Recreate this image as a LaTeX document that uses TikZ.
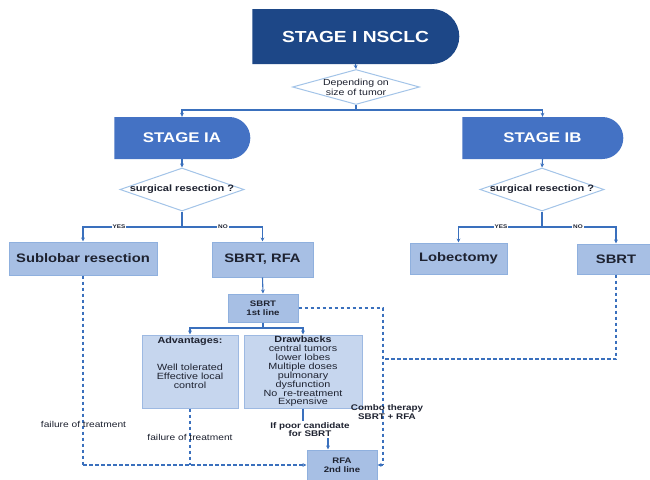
\documentclass[tikz,border=0pt]{standalone}
\usepackage{fontspec}
\setmainfont{Liberation Sans}[FakeStretch=1.2]
\usetikzlibrary{shapes.misc,shapes.geometric,arrows.meta}
\definecolor{darkblue}{HTML}{1D4787}
\definecolor{midblue}{HTML}{4472C4}
\definecolor{lineblue}{HTML}{3A70BD}
\definecolor{resfill}{HTML}{A7BFE4}
\definecolor{resborder}{HTML}{8FB0DE}
\definecolor{advfill}{HTML}{C6D6EE}
\definecolor{advborder}{HTML}{9DB9E2}
\definecolor{diaborder}{HTML}{A3C4E8}
\definecolor{txt}{HTML}{1E2230}
\newcommand{\fs}[2]{\fontsize{#1}{#2}\selectfont}
\begin{document}
\begin{tikzpicture}[x=1pt,y=-1pt,
  line/.style={draw=lineblue, line width=1.1pt},
  arr/.style={line, -{Stealth[length=4pt,width=3.8pt]}},
  dline/.style={line, dash pattern=on 3.5pt off 2.5pt},
  darr/.style={dline, -{Stealth[length=4pt,width=3.8pt]}},
  titlebox/.style={rounded rectangle, rounded rectangle left arc=none, inner sep=0pt, text=white, font=\bfseries},
  dia/.style={diamond, draw=diaborder, fill=white, line width=1pt, inner sep=0pt},
  res/.style={rectangle, draw=resborder, fill=resfill, line width=1pt, inner sep=0pt, text=txt, font=\bfseries\fs{12.3}{14}},
  adv/.style={rectangle, draw=advborder, fill=advfill, line width=1pt, inner sep=0pt, text=txt, align=center},
  yn/.style={fill=white, inner sep=1pt, text=txt, font=\bfseries\fs{5.3}{6}},
  lbl/.style={inner sep=0pt, text=txt, align=center}
]
\clip (0,0) rectangle (650,479);
\fill[white] (0,0) rectangle (650,479);

% top
\node[titlebox, fill=darkblue, minimum width=207pt, minimum height=55pt, font=\bfseries\fs{16}{18}] (nsclc) at (355.5,36.5) {STAGE I NSCLC};
\node[dia, minimum width=127pt, minimum height=35pt] (dep) at (356,87) {};
\node[lbl, font=\fs{8.8}{10}] (deptxt) at (356,87.5) {Depending on\\size of tumor};

\node[titlebox, fill=midblue, minimum width=136pt, minimum height=42pt, font=\bfseries\fs{14}{16}] (ia) at (182,138) {STAGE IA};
\node[titlebox, fill=midblue, minimum width=161pt, minimum height=42pt, font=\bfseries\fs{14}{16}] (ib) at (542.5,138) {STAGE IB};

\node[dia, minimum width=124pt, minimum height=43pt] (sr1) at (182,189.5) {};
\node[lbl, font=\bfseries\fs{9.2}{11}] (sr1txt) at (182,189) {surgical resection ?};
\node[dia, minimum width=124pt, minimum height=43pt] (sr2) at (542,189.5) {};
\node[lbl, font=\bfseries\fs{9.2}{11}] (sr2txt) at (542,189) {surgical resection ?};

% result boxes
\node[res, minimum width=148pt, minimum height=33pt] (sub) at (83,258.5) {Sublobar resection};
\node[res, minimum width=101pt, minimum height=35pt] (sr) at (262.5,259.5) {\raisebox{-3pt}{SBRT, RFA}};
\node[res, minimum width=97pt, minimum height=31pt] (lob) at (458.5,258.5) {Lobectomy};
\node[res, minimum width=78pt, minimum height=30pt, text width=78pt, align=center] (sb2) at (616,259) {SBRT};

\node[res, minimum width=70pt, minimum height=28pt, align=center, font=\bfseries\fs{8}{9}] (sb1) at (263,308) {SBRT\\1st line};

\node[adv, minimum width=96pt, minimum height=73pt] (advb) at (190,371.5) {};
\node[lbl, anchor=north, font=\fs{9}{9}] (advtxt) at (190,337) {\textbf{Advantages:}\\[18pt]Well tolerated\\Effective local\\control};
\node[adv, minimum width=118pt, minimum height=73pt, font=\fs{9}{8.9}] (drw) at (303,371.5) {\textbf{Drawbacks}\\central tumors\\lower lobes\\Multiple doses\\pulmonary\\dysfunction\\No~~re-treatment\\Expensive};

\node[res, minimum width=70pt, minimum height=30pt, align=center, font=\bfseries\fs{8}{9}] (rfa) at (342,465) {RFA\\2nd line};

% connectors
\draw[arr] (nsclc.south) -- (dep.north);
\coordinate (b1) at (356,110);
\draw[line] (dep.south) -- (b1);
\draw[arr] (b1) -| (ia.north);
\draw[arr] (b1) -| (ib.north);
\draw[arr] (ia.south) -- (sr1.north);
\draw[arr] (ib.south) -- (sr2.north);

\coordinate (b2) at (182,227);
\draw[line] (sr1.south) -- (b2);
\draw[arr] (b2) -| (sub.north);
\draw[arr] (b2) -| (sr.north);
\coordinate (b3) at (542,227);
\draw[line] (sr2.south) -- (b3);
\draw[arr] (b3) -| (lob.north);
\draw[arr] (b3) -| (sb2.north);

\node[yn] (yes1) at (119,227) {YES};
\node[yn] (no1) at (223,227) {NO};
\node[yn] (yes2) at (501,227) {YES};
\node[yn] (no2) at (578,227) {NO};

\draw[arr] (sr.south) -- (sb1.north);
\coordinate (b4) at (263,328);
\draw[line] (sb1.south) -- (b4);
\draw[arr] (b4) -| (advb.north);
\draw[arr] (b4) -| (drw.north);

% dashed paths
\coordinate (d1) at (83,465);
\coordinate (d2) at (190,465);
\draw[dline] (sub.south) -- (d1);
\draw[darr] (d1) -- (rfa.west);
\draw[dline] (advb.south) -- (d2);

\coordinate (c1) at (383,308);
\coordinate (c2) at (383,465);
\coordinate (c3) at (383,359);
\coordinate (c4) at (616,359);
\draw[dline] (sb1.east) -- (c1) -- (c2);
\draw[darr] (c2) -- (rfa.east);
\draw[dline] (sb2.south) -- (c4) -- (c3);

\node[lbl, font=\fs{8.5}{10}] (fail1) at (83.5,424) {failure of treatment};
\node[lbl, font=\fs{8.5}{10}] (fail2) at (190,437) {failure of treatment};
\node[lbl, font=\bfseries\fs{8.2}{8.5}] (combo) at (387,412) {Combo therapy\\SBRT + RFA};

\node[lbl, font=\bfseries\fs{8.2}{8}] (poor) at (310,429.5) {If poor candidate\\for SBRT};
\coordinate (p1) at (303,421);
\coordinate (p2) at (328,438);
\draw[line] (drw.south -| p1) -- (p1);
\draw[arr] (p2) -- (p2 |- rfa.north);
\end{tikzpicture}
\end{document}
